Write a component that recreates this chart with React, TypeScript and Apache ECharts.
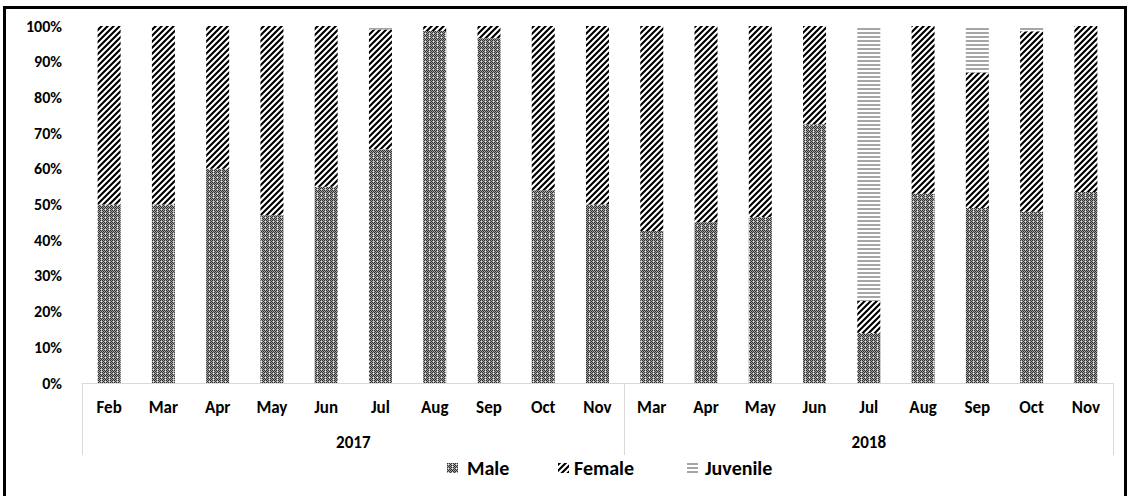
import React, { useEffect, useRef } from 'react';
import * as echarts from 'echarts';

const months = ['Feb', 'Mar', 'Apr', 'May', 'Jun', 'Jul', 'Aug', 'Sep', 'Oct', 'Nov', 'Mar', 'Apr', 'May', 'Jun', 'Jul', 'Aug', 'Sep', 'Oct', 'Nov'];
const years = ['2017', '2018'];
const yearSpans = [10, 9];
const male = [50, 50, 60, 47, 55, 65.5, 98.6, 96.6, 54, 50, 42.6, 45, 46.5, 72.5, 14, 53, 49, 48, 53.5];
const female = [50, 50, 40, 53, 45, 33.5, 1.4, 3.4, 46, 50, 57.4, 55, 53.5, 27.5, 9, 47, 38, 50.5, 46.5];
const juvenile = [0, 0, 0, 0, 0, 1, 0, 0, 0, 0, 0, 0, 0, 0, 77, 0, 13, 1.5, 0];

const FONT = 'Carlito, Lato, sans-serif';

function makePattern(w: number, h: number, fn: (x: number, y: number) => number) {
  const c = document.createElement('canvas');
  c.width = w;
  c.height = h;
  const ctx = c.getContext('2d')!;
  const img = ctx.createImageData(w, h);
  for (let y = 0; y < h; y++) {
    for (let x = 0; x < w; x++) {
      const v = fn(x, y);
      const i = (y * w + x) * 4;
      img.data[i] = v;
      img.data[i + 1] = v;
      img.data[i + 2] = v;
      img.data[i + 3] = 255;
    }
  }
  ctx.putImageData(img, 0, 0);
  return { image: c, repeat: 'repeat', imageWidth: w, imageHeight: h } as any;
}

export default function App() {
  const ref = useRef<HTMLDivElement>(null);
  useEffect(() => {
    if (!ref.current) return;
    const chart = echarts.init(ref.current, undefined, { renderer: 'svg' });

    const malePat = makePattern(8, 8, (x, y) => {
      if ((x % 4 === 1 && y % 4 === 1) || (x % 8 === 5 && y % 8 === 3)) return 240;
      return (x + y) % 2 === 0 ? 0x30 : 0xa0;
    });
    const femalePat = makePattern(6, 6, (x, y) => {
      const d = (x + y) % 6;
      return d < 2 ? 0 : d === 2 ? 0x40 : d === 5 ? 0xc0 : 255;
    });
    const juvPat = makePattern(4, 4, (x, y) => (y % 4 < 2 ? 0xa6 : 255));

    const bounds: number[] = [0];
    const centers: number[] = [];
    yearSpans.forEach((s, i) => {
      centers.push(bounds[i] + s / 2);
      bounds.push(bounds[i] + s);
    });

    const labelStyle = { fontFamily: FONT, fontWeight: 'bold' as const, fontSize: 16, color: '#000' };
    const xLabelStyle = { ...labelStyle, fontSize: 17 };
    const legendBase = {
      top: 453,
      itemWidth: 11,
      itemHeight: 10,
      icon: 'rect',
      textStyle: { fontFamily: FONT, fontWeight: 'bold' as const, fontSize: 20, color: '#000', padding: [0, 0, 0, 2] },
    };

    chart.setOption({
      animation: false,
      backgroundColor: '#fff',
      grid: { left: 82, right: 17, top: 26, bottom: 113, containLabel: false },
      legend: [
        { ...legendBase, left: 442, data: ['Male'], textStyle: { ...legendBase.textStyle, padding: [0, 0, 0, 4] } },
        { ...legendBase, left: 553, data: ['Female'], textStyle: { ...legendBase.textStyle, padding: [0, 0, 0, 0] } },
        { ...legendBase, left: 682, data: ['Juvenile'], textStyle: { ...legendBase.textStyle, padding: [0, 0, 0, 2] } },
      ],
      xAxis: [
        {
          type: 'category',
          data: months,
          axisLine: { lineStyle: { color: '#d9d9d9', width: 1 } },
          axisTick: { show: false },
          axisLabel: { ...xLabelStyle, margin: 16, interval: 0 },
        },
        {
          type: 'value',
          min: 0,
          max: bounds[bounds.length - 1],
          position: 'bottom',
          axisLine: { show: false },
          splitLine: { show: false },
          axisTick: { show: true, customValues: bounds, length: 72, lineStyle: { color: '#d9d9d9', width: 1 } },
          axisLabel: {
            ...xLabelStyle,
            customValues: centers,
            margin: 51,
            formatter: (v: number) => {
              const idx = centers.findIndex((c) => Math.abs(c - v) < 1e-6);
              return idx >= 0 ? years[idx] : '';
            },
          },
        },
      ],
      yAxis: {
        type: 'value',
        min: 0,
        max: 100,
        interval: 10,
        axisLine: { show: false },
        axisTick: { show: false },
        splitLine: { show: false },
        axisLabel: { ...labelStyle, margin: 20, formatter: '{value}%' },
      },
      series: [
        { name: 'Male', type: 'bar', stack: 'total', barWidth: 23, data: male, itemStyle: { color: malePat } },
        { name: 'Female', type: 'bar', stack: 'total', barWidth: 23, data: female, itemStyle: { color: femalePat } },
        { name: 'Juvenile', type: 'bar', stack: 'total', barWidth: 23, data: juvenile, itemStyle: { color: juvPat } },
      ],
      graphic: [
        {
          type: 'rect',
          silent: true,
          z: 100,
          shape: { x: 4.5, y: 7.5, width: 1121, height: 500 },
          style: { fill: 'none', stroke: '#000', lineWidth: 3 },
        },
      ],
    });
    return () => chart.dispose();
  }, []);
  return <div ref={ref} style={{ position: 'fixed', left: 0, top: 0, width: 1130, height: 496 }} />;
}
